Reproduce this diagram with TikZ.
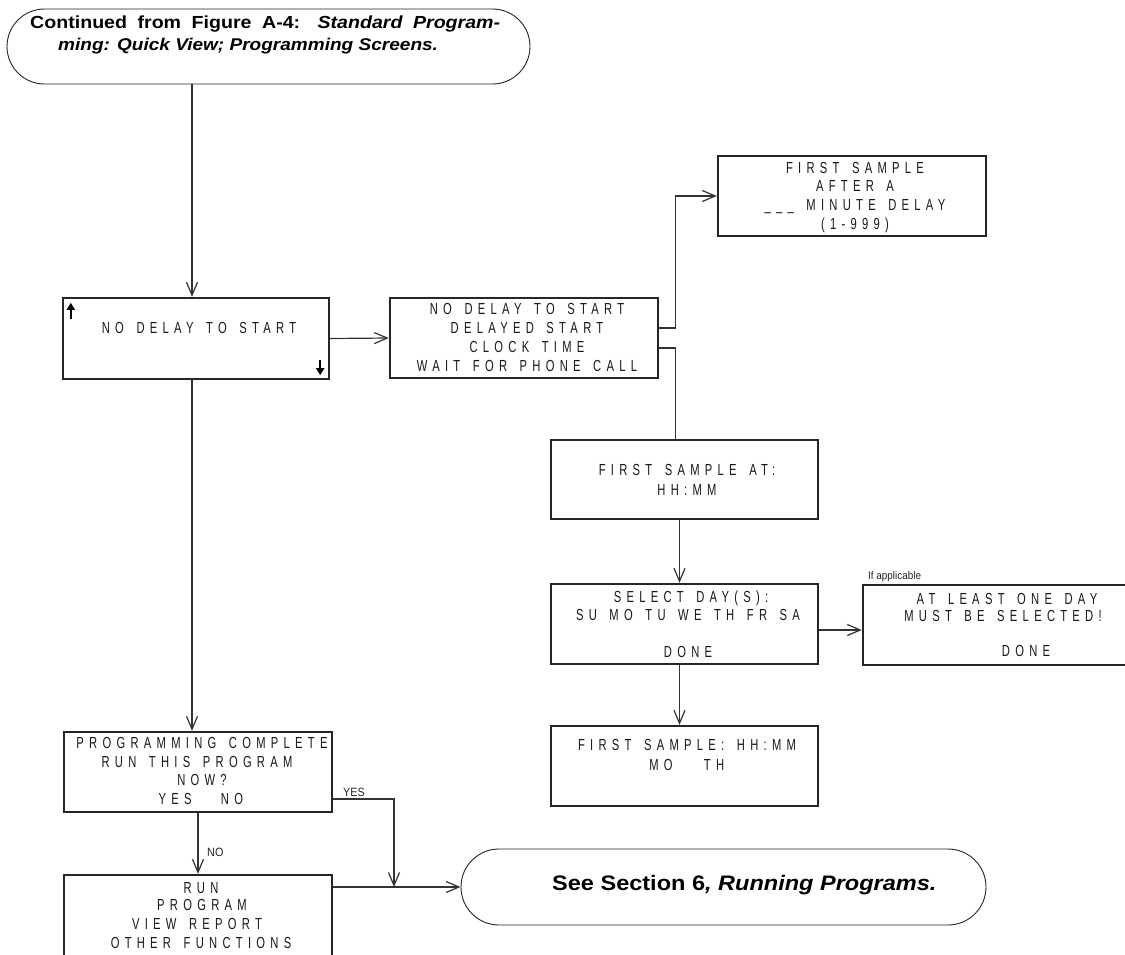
\documentclass[tikz,border=0pt]{standalone}
\usepackage{fontspec}
\setmainfont{Liberation Sans}
\newfontfamily\lcdfont[LetterSpace=33,FakeStretch=0.7,WordSpace=1.5]{Liberation Sans}
\newfontfamily\termfont[FakeStretch=1.12]{Liberation Sans}
\newfontfamily\labfont[FakeStretch=0.9]{Liberation Sans}
\usetikzlibrary{arrows.meta,shapes.misc,calc}
\tikzset{
  box/.style={draw=black!85, line width=2.4pt, inner sep=0pt, rectangle},
  term/.style={draw=black!85, line width=0.9pt, rounded rectangle, inner sep=0pt},
  conn/.style={draw=black!80, line width=1.2pt},
  arr/.style={conn, -{Straight Barb[length=13pt,width=11pt]}},
  lcd/.style={font=\lcdfont\fontsize{16}{18}\selectfont, anchor=base, inner sep=0pt, text=black!90},
  lab/.style={font=\labfont\fontsize{12}{14}\selectfont, anchor=base west, inner sep=0pt, text=black!85},
  ttext/.style={font=\termfont\bfseries, anchor=base west, inner sep=0pt, text=black},
  keyarrow/.style={line width=2pt, -{Triangle[length=7pt,width=8pt]}},
}
\begin{document}
\begin{tikzpicture}[x=1pt,y=-1pt]
\path[use as bounding box] (0,0) rectangle (1125,954);
\clip (0,0) rectangle (1125,954);
\fill[white] (0,0) rectangle (1125,954);

% terminals
\node[term, minimum width=523pt, minimum height=75pt] (t1) at (268.5,46.5) {};
\node[ttext, font=\termfont\bfseries\fontsize{17.5}{20}\selectfont] (t1a) at (30,28) {\makebox[470pt][s]{Continued from Figure A-4: \textit{Standard Program-}}};
\node[ttext, font=\termfont\bfseries\fontsize{17}{20}\selectfont] (t1b) at (58,50) {\textit{ming: Quick View; Programming Screens.}};

\node[term, minimum width=525pt, minimum height=76pt] (t2) at (723.5,887) {};
\node[ttext, font=\termfont\bfseries\fontsize{21}{24}\selectfont] (t2a) at (552,890) {See Section 6\textit{, Running Programs.}};

% boxes
\node[box, minimum width=266pt, minimum height=81pt] (b1) at (196,338.5) {};
\node[box, minimum width=268pt, minimum height=80pt] (b2) at (524,338) {};
\node[box, minimum width=268pt, minimum height=80pt] (b3) at (852,196) {};
\node[box, minimum width=267pt, minimum height=79pt] (b4) at (684.5,479.5) {};
\node[box, minimum width=267pt, minimum height=80pt] (b5) at (684.5,624) {};
\node[box, minimum width=277pt, minimum height=80pt] (b6) at (1001.5,625) {};
\node[box, minimum width=267pt, minimum height=80pt] (b7) at (684.5,766) {};
\node[box, minimum width=268pt, minimum height=80pt] (b8) at (198,772) {};
\node[box, minimum width=268pt, minimum height=85pt] (b9) at (198,917.5) {};

% box texts
\node[lcd] (b1a) at (199,333) {NO DELAY TO START};
\draw[keyarrow] ([xshift=9pt,yshift=-22pt]b1.north west) -- ([xshift=9pt,yshift=-6pt]b1.north west);
\draw[keyarrow] ([xshift=-10pt,yshift=20pt]b1.south east) -- ([xshift=-10pt,yshift=5pt]b1.south east);

\node[lcd] (b2a) at (527,314) {NO DELAY TO START};
\node[lcd] (b2b) at (527,333) {DELAYED START};
\node[lcd] (b2c) at (527,352) {CLOCK TIME};
\node[lcd] (b2d) at (527,371) {WAIT FOR PHONE CALL};

\node[lcd] (b3a) at (855,173) {FIRST SAMPLE};
\node[lcd] (b3b) at (855,191.5) {AFTER A};
\node[lcd] (b3c) at (855,210) {\_\_\_ MINUTE DELAY};
\node[lcd] (b3d) at (855,229) {(1-999)};

\node[lcd] (b4a) at (687,475.5) {FIRST SAMPLE AT:};
\node[lcd] (b4b) at (687,495) {HH:MM};

\node[lcd] (b5a) at (691,602) {SELECT DAY(S):};
\node[lcd] (b5b) at (688,620) {SU MO TU WE TH FR SA};
\node[lcd] (b5c) at (688,657) {DONE};

\node[lab, font=\labfont\fontsize{11}{13}\selectfont] (ifa) at (868,579) {If applicable};
\node[lcd] (b6a) at (1007,604) {AT LEAST ONE DAY};
\node[lcd] (b6b) at (1003,621) {MUST BE SELECTED!};
\node[lcd] (b6c) at (1026,656) {DONE};

\node[lcd] (b7a) at (687,750) {FIRST SAMPLE: HH:MM};
\node[lcd] (b7b) at (661,770) {MO};
\node[lcd] (b7c) at (714,770) {TH};

\node[lcd] (b8a) at (202,748) {PROGRAMMING COMPLETE};
\node[lcd] (b8b) at (197,767) {RUN THIS PROGRAM};
\node[lcd] (b8c) at (202,785) {NOW?};
\node[lcd] (b8d) at (175,804) {YES};
\node[lcd] (b8e) at (232,804) {NO};

\node[lcd] (b9a) at (201,893) {RUN};
\node[lcd] (b9b) at (202,910) {PROGRAM};
\node[lcd] (b9c) at (197,929) {VIEW REPORT};
\node[lcd] (b9d) at (201,948) {OTHER FUNCTIONS};

% connectors
\coordinate (j) at (394,887);
\draw[arr] ([xshift=-4pt]b1.north |- t1.south) -- ([xshift=-4pt]b1.north);
\draw[arr] (b1.east) -- (b2.west);
\draw[arr] ([yshift=10pt]b2.east) -- ++(16,0) |- (b3.west);
\draw[conn] ([yshift=-10pt]b2.east) -| ([xshift=-9pt]b4.north);
\draw[arr] ([xshift=-5pt]b4.south) -- ([xshift=-5pt]b5.north);
\draw[arr] ([yshift=-6pt]b5.east) -- ([yshift=-6pt]b5.east -| b6.west);
\draw[arr] ([xshift=-5pt]b5.south) -- ([xshift=-5pt]b7.north);
\draw[arr] ([xshift=-4pt]b1.south) -- ([xshift=-4pt]b1.south |- b8.north);
\draw[arr] (b8.south) -- (b9.north);
\node[lab] (nol) at (207,856) {NO};
\draw[arr] ([yshift=-27pt]b8.east) -| (j);
\node[lab] (yesl) at (343,796) {YES};
\draw[arr] (b9.east |- t2.west) -- (t2.west);
\end{tikzpicture}
\end{document}
